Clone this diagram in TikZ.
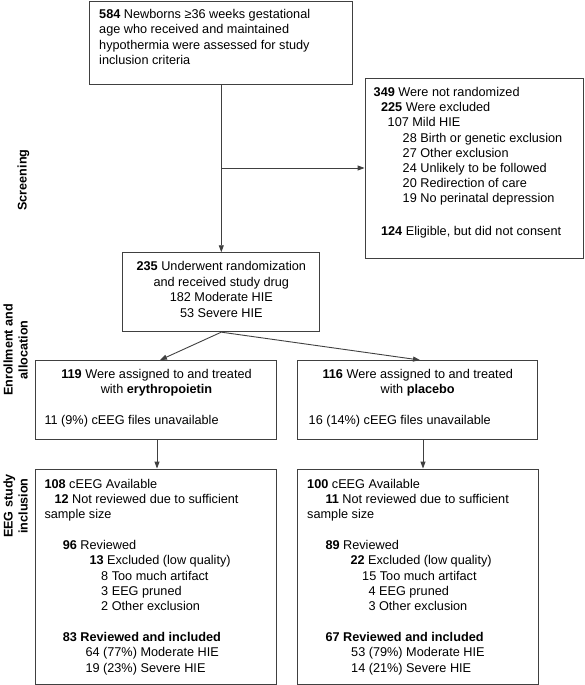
\documentclass[tikz,border=0pt]{standalone}
\usepackage{fontspec}
\setmainfont{Liberation Sans}
\usetikzlibrary{arrows.meta}
\newcommand\mystrut{\rule{0pt}{11pt}}
\begin{document}
\begin{tikzpicture}[x=1pt,y=-1pt,
  box/.style={draw=black!75, line width=0.9pt, inner sep=0pt, fill=none},
  arr/.style={draw=black!75, line width=0.9pt, -{Triangle[length=7pt,width=5pt]}},
  txt/.style={inner sep=0pt, anchor=north west, align=left},
  ctxt/.style={inner sep=0pt, anchor=north, align=center},
  lab/.style={inner sep=0pt, rotate=90, align=center, font=\bfseries\fontsize{12.6}{15}\selectfont}]
\useasboundingbox (0,0) rectangle (585,685);

% boxes
\node[box, minimum width=263pt, minimum height=83pt] (b1) at (220.5,42.5) {};
\node[box, minimum width=218pt, minimum height=180pt] (b2) at (474,168) {};
\node[box, minimum width=197pt, minimum height=79pt] (b3) at (221.3,292.2) {};
\node[box, minimum width=241pt, minimum height=79pt] (b4) at (155.5,400) {};
\node[box, minimum width=240.5pt, minimum height=79pt] (b5) at (417.5,400) {};
\node[box, minimum width=241pt, minimum height=215pt] (b6) at (155.5,576.5) {};
\node[box, minimum width=241pt, minimum height=215pt] (b7) at (417.5,576.5) {};

% texts
\node[txt, font=\fontsize{12.7}{15.2}\selectfont] (t1) at (99,7.5) {\mystrut\textbf{584} Newborns ≥36 weeks gestational\\age who received and maintained\\hypothermia were assessed for study\\inclusion criteria};

\node[txt, font=\fontsize{12.7}{15.2}\selectfont] (t2) at (373.5,85.2) {\mystrut\textbf{349} Were not randomized\\
\hspace*{7.4pt}\textbf{225} Were excluded\\
\hspace*{14pt}107 Mild HIE\\
\hspace*{29pt}28 Birth or genetic exclusion\\
\hspace*{29pt}27 Other exclusion\\
\hspace*{29pt}24 Unlikely to be followed\\
\hspace*{29pt}20 Redirection of care\\
\hspace*{29pt}19 No perinatal depression\\[17.5pt]
\hspace*{7.4pt}\textbf{124} Eligible, but did not consent};

\node[ctxt, font=\fontsize{12.7}{15.6}\selectfont] (t3) at (221.3,259.5) {\mystrut\textbf{235} Underwent randomization\\and received study drug\\182 Moderate HIE\\53 Severe HIE};

\node[ctxt, font=\fontsize{12.7}{15.2}\selectfont] (t4) at (156.5,366.8) {\mystrut\textbf{119} Were assigned to and treated\\with \textbf{erythropoietin}};
\node[txt, font=\fontsize{12.7}{15.2}\selectfont] (t4b) at (44.3,412.8) {\mystrut 11 (9\%) cEEG files unavailable};

\node[ctxt, font=\fontsize{12.7}{15.2}\selectfont] (t5) at (417.7,366.8) {\mystrut\textbf{116} Were assigned to and treated\\with \textbf{placebo}};
\node[txt, font=\fontsize{12.7}{15.2}\selectfont] (t5b) at (308.5,412.8) {\mystrut 16 (14\%) cEEG files unavailable};

\node[txt, font=\fontsize{12.7}{15.35}\selectfont] (t6) at (44.3,476.8) {\mystrut\textbf{108} cEEG Available\\
\hspace*{10pt}\textbf{12} Not reviewed due to sufficient\\
sample size\\[15.35pt]
\hspace*{18.3pt}\textbf{96} Reviewed\\
\hspace*{45pt}\textbf{13} Excluded (low quality)\\
\hspace*{56.7pt}8 Too much artifact\\
\hspace*{56.7pt}3 EEG pruned\\
\hspace*{56.7pt}2 Other exclusion\\[15.35pt]
\hspace*{18.3pt}\textbf{83 Reviewed and included}\\
\hspace*{41pt}64 (77\%) Moderate HIE\\
\hspace*{41pt}19 (23\%) Severe HIE};

\node[txt, font=\fontsize{12.7}{15.35}\selectfont] (t7) at (307,476.8) {\mystrut\textbf{100} cEEG Available\\
\hspace*{18.3pt}\textbf{11} Not reviewed due to sufficient\\
sample size\\[15.35pt]
\hspace*{18.3pt}\textbf{89} Reviewed\\
\hspace*{43.3pt}\textbf{22} Excluded (low quality)\\
\hspace*{55pt}15 Too much artifact\\
\hspace*{61.3pt}4 EEG pruned\\
\hspace*{61.3pt}3 Other exclusion\\[15.35pt]
\hspace*{18.3pt}\textbf{67 Reviewed and included}\\
\hspace*{44pt}53 (79\%) Moderate HIE\\
\hspace*{44pt}14 (21\%) Severe HIE};

% side labels
\node[lab] (l1) at (23.5,180) {Screening};
\node[lab] (l2) at (15.5,350) {Enrollment and\\allocation};
\node[lab] (l3) at (15.5,506) {EEG study\\inclusion};

% connectors
\coordinate (j) at (b3.north |- b2.west);
\draw[arr] (b1.south -| b3.north) -- (b3.north);
\draw[arr] (j) -- (b2.west);
\draw[arr] (b3.south) -- ([xshift=4.5pt]b4.north);
\draw[arr] (b3.south) -- ([xshift=2.5pt]b5.north);
\draw[arr] ([xshift=1.5pt]b4.south) -- ([xshift=1.5pt]b6.north);
\draw[arr] ([xshift=5.5pt]b5.south) -- ([xshift=5.5pt]b7.north);
\end{tikzpicture}
\end{document}
